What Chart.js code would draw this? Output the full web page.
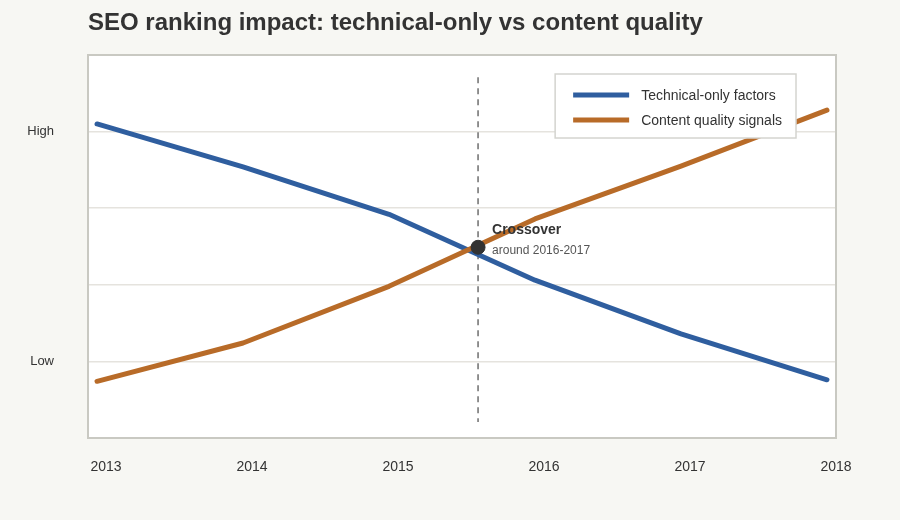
<!DOCTYPE html>
<html>
<head>
<meta charset="utf-8">
<script src="https://cdn.jsdelivr.net/npm/chart.js@4.4.1/dist/chart.umd.min.js"></script>
<style>
  html, body { margin: 0; padding: 0; background: #f7f7f3; }
  #wrap { position: relative; width: 900px; height: 520px; }
  h1 { position: absolute; left: 88px; top: 8px; margin: 0; font: bold 24px "Liberation Sans", Arial, sans-serif; color: #333; }
</style>
</head>
<body>
<div id="wrap">
  <h1>SEO ranking impact: technical-only vs content quality</h1>
  <canvas id="chart" width="900" height="520"></canvas>
</div>
<script>
const years = [2013, 2014, 2015, 2016, 2017, 2018]
const technical = [4.10, 3.54, 2.92, 2.06, 1.36, 0.76]
const content = [0.74, 1.24, 1.98, 2.86, 3.55, 4.28]
const levelValues = [1, 4]
const levelLabels = ["Low", "High"]
const crossX = 2015.61
const crossY = 2.49
const crossTitle = "Crossover"
const crossNote = "around 2016-2017"

const FONT = '"Liberation Sans", Arial, sans-serif'
const BLUE = "#2f5e9f"
const ORANGE = "#b86b28"

const pts = (vals) => vals.map((v, i) => ({x: years[i], y: v}))

const frame = {
    id: "frame",
    beforeDraw(chart) {
        const {ctx, chartArea: a} = chart
        ctx.save()
        ctx.fillStyle = "#fff"
        ctx.fillRect(a.left, a.top, a.width, a.height)
        ctx.restore()
    },
    beforeDatasetsDraw(chart) {
        const {ctx, chartArea: a} = chart
        ctx.save()
        ctx.strokeStyle = "#c9c9c2"
        ctx.lineWidth = 2
        ctx.strokeRect(a.left, a.top, a.width, a.height)
        ctx.restore()
    },
    afterDraw(chart) {
        const {ctx, chartArea: a, scales} = chart
        ctx.save()
        // annotation
        const px = scales.x.getPixelForValue(crossX)
        const py = scales.y.getPixelForValue(crossY)
        ctx.textBaseline = "middle"
        ctx.fillStyle = "#333"
        ctx.font = "bold 14px " + FONT
        ctx.fillText(crossTitle, px + 14, py - 17)
        ctx.fillStyle = "#555"
        ctx.font = "12px " + FONT
        ctx.fillText(crossNote, px + 14, py + 3)

        // legend
        const items = [
            {label: "Technical-only factors", color: BLUE},
            {label: "Content quality signals", color: ORANGE},
        ]
        ctx.font = "14px " + FONT
        const tw = Math.max(...items.map(it => ctx.measureText(it.label).width))
        const w = 18 + 56 + 12 + tw + 14
        const right = a.right - 40
        const left = right - w
        const top = a.top + 19
        ctx.fillStyle = "#fff"
        ctx.fillRect(left, top, w, 64)
        ctx.strokeStyle = "#d4d4cf"
        ctx.lineWidth = 1.5
        ctx.strokeRect(left, top, w, 64)
        items.forEach((it, i) => {
            const y = top + 21 + i * 25
            ctx.strokeStyle = it.color
            ctx.lineWidth = 5
            ctx.beginPath()
            ctx.moveTo(left + 18, y)
            ctx.lineTo(left + 74, y)
            ctx.stroke()
            ctx.fillStyle = "#333"
            ctx.fillText(it.label, left + 86, y + 1)
        })
        ctx.restore()
    }
}

new Chart(document.getElementById("chart"), {
    type: "line",
    data: {
        datasets: [
            {
                label: "crossover",
                data: [{x: crossX, y: crossY}],
                showLine: false,
                pointRadius: 7,
                pointBackgroundColor: "#333",
                pointBorderColor: "#333",
            },
            {
                label: "Content quality signals",
                data: pts(content),
                borderColor: ORANGE,
                borderWidth: 5,
                pointRadius: 0,
                borderCapStyle: "round",
                borderJoinStyle: "round",
            },
            {
                label: "Technical-only factors",
                data: pts(technical),
                borderColor: BLUE,
                borderWidth: 5,
                pointRadius: 0,
                borderCapStyle: "round",
                borderJoinStyle: "round",
            },
            {
                label: "marker",
                data: [{x: crossX, y: 4.71}, {x: crossX, y: 0.21}],
                borderColor: "#777",
                borderWidth: 1.6,
                borderDash: [6, 5],
                pointRadius: 0,
            },
        ]
    },
    plugins: [frame],
    options: {
        responsive: false,
        animation: false,
        layout: {padding: {top: 55, right: 64, left: 0, bottom: 0}},
        plugins: {
            legend: {display: false},
            tooltip: {enabled: false},
        },
        scales: {
            x: {
                type: "linear",
                min: 2012.938,
                max: 2018.062,
                afterBuildTicks: (s) => { s.ticks = years.map(v => ({value: v})) },
                afterFit: (s) => { s.height = 82 },
                grid: {display: false},
                border: {display: false},
                ticks: {
                    padding: 13,
                    labelOffset: 9,
                    color: "#333",
                    font: {family: FONT, size: 14},
                    callback: (v) => String(v),
                },
            },
            y: {
                min: 0,
                max: 5,
                afterBuildTicks: (s) => { s.ticks = [0, 1, 2, 3, 4, 5].map(v => ({value: v})) },
                afterFit: (s) => { s.width = 88 },
                grid: {color: "#e5e3de", lineWidth: 1.6, drawTicks: false},
                border: {display: false},
                ticks: {
                    padding: 34,
                    color: "#333",
                    font: {family: FONT, size: 13},
                    callback: (v) => {
                        const i = levelValues.indexOf(v)
                        return i >= 0 ? levelLabels[i] : ""
                    },
                },
            },
        },
    },
})
</script>
</body>
</html>
